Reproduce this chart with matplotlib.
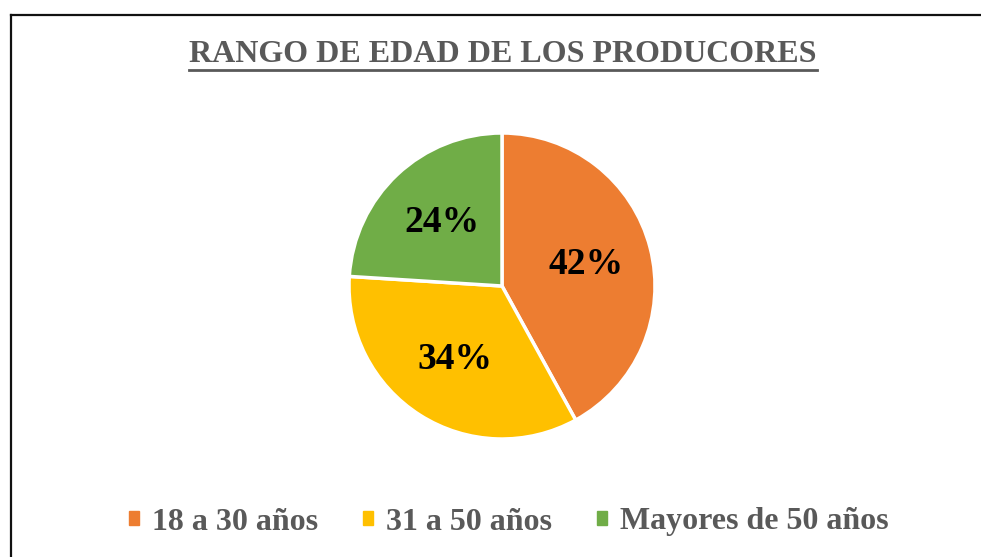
import matplotlib.pyplot as plt
from matplotlib.patches import Patch
from matplotlib.lines import Line2D

categorias = ['18 a 30 años', '31 a 50 años', 'Mayores de 50 años']
porcentajes = [42, 34, 24]
colores = ['#ED7D31', '#FFC000', '#70AD47']
titulo = 'RANGO DE EDAD DE LOS PRODUCORES'

plt.rcParams['font.family'] = ['Liberation Serif', 'DejaVu Serif']
gris = '#595959'

fig = plt.figure(figsize=(9.81, 5.57), dpi=100)
W, H = 981, 557

# borde del grafico (recortado a la derecha y abajo)
fig.add_artist(Line2D([11 / W, 11 / W], [0, 1 - 15 / H], transform=fig.transFigure, color='#111111', lw=1.6))
fig.add_artist(Line2D([11 / W, 1], [1 - 15 / H, 1 - 15 / H], transform=fig.transFigure, color='#111111', lw=1.6))

# pie
cx, cy, r = 502, 286, 153
ax = fig.add_axes([(cx - r) / W, (H - cy - r) / H, 2 * r / W, 2 * r / H])
wedges, textos, autotextos = ax.pie(porcentajes, colors=colores, startangle=90, counterclock=False,
                                   autopct='%d%%', pctdistance=0.57,
                                   wedgeprops=dict(edgecolor='white', linewidth=2.5))
for t in autotextos:
    t.set_fontsize(27)
    t.set_fontweight('bold')
    t.set_color('black')
ax.set_xlim(-1, 1)
ax.set_ylim(-1, 1)

# titulo subrayado
tt = fig.text(503 / W, 1 - 55 / H, titulo, ha='center', va='center', fontsize=23,
              fontweight='bold', color=gris)
fig.canvas.draw()
bb = tt.get_window_extent().transformed(fig.transFigure.inverted())
fig.add_artist(Line2D([bb.x0, bb.x1], [1 - 70 / H, 1 - 70 / H], transform=fig.transFigure, color=gris, lw=2))

# leyenda
handles = [Patch(facecolor=c, edgecolor=c) for c in colores]
fig.legend(handles, categorias, loc='center', bbox_to_anchor=(509 / W, 1 - 522 / H), ncol=3, frameon=False,
           prop=dict(family='Liberation Serif', weight='bold', size=23), labelcolor=gris,
           handlelength=0.3, handleheight=0.3, handletextpad=0.42, columnspacing=1.4)

fig.savefig('out.png', dpi=100)
